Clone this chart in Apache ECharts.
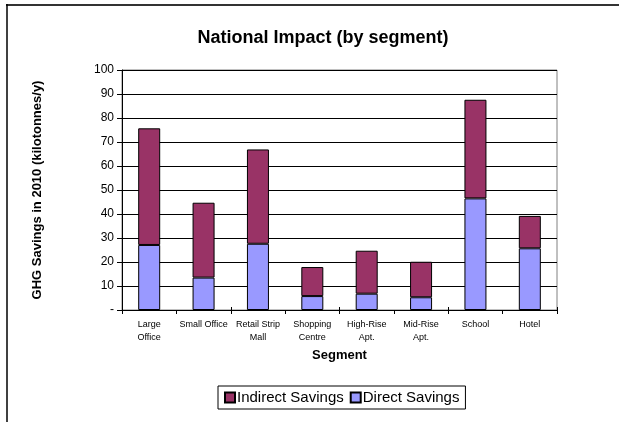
<!DOCTYPE html>
<html>
<head>
<meta charset="utf-8">
<script src="https://cdn.jsdelivr.net/npm/echarts@6/dist/echarts.min.js"></script>
<style>
  html, body { margin: 0; padding: 0; background: #fff; }
  #chart { width: 619px; height: 422px; }
</style>
</head>
<body>
<div id="chart"></div>
<script>
// Segments along the x axis
const segments = ['Large\nOffice', 'Small Office', 'Retail Strip\nMall', 'Shopping\nCentre',
  'High-Rise\nApt.', 'Mid-Rise\nApt.', 'School', 'Hotel'];

// GHG savings in 2010, kilotonnes per year
const directSavings   = [27.1, 13.5, 27.6, 5.8, 6.8, 5.3, 46.5, 25.7];
const indirectSavings = [48.6, 31.2, 39.3, 12.1, 17.9, 14.8, 41.1, 13.5];

// Value axis ticks
const yMin = 0, yMax = 100, yStep = 10;

const FONT = 'Liberation Sans, Arial, sans-serif';
const chart = echarts.init(document.getElementById('chart'), null, { renderer: 'canvas' });

chart.setOption({
  animation: false,
  backgroundColor: '#fff',
  textStyle: { fontFamily: FONT, color: '#000' },
  title: {
    text: 'National Impact (by segment)',
    left: 318, top: 24, textAlign: 'center',
    textStyle: { fontFamily: FONT, fontSize: 18, fontWeight: 'bold', color: '#000' }
  },
  legend: {
    data: ['Indirect Savings', 'Direct Savings'],
    left: 218, top: 386,
    width: 250,
    padding: [4, 6, 4, 6],
    borderColor: '#000', borderWidth: 1,
    itemWidth: 10, itemHeight: 10, itemGap: 6,
    icon: 'rect',
    textStyle: { fontFamily: FONT, fontSize: 15, color: '#000', padding: [0, 0, 0, -3] }
  },
  grid: {
    left: 122, right: 62, top: 70, bottom: 112,
    show: true, borderColor: '#808080', borderWidth: 1, backgroundColor: 'transparent'
  },
  xAxis: [{
    type: 'category',
    data: segments,
    name: 'Segment',
    nameLocation: 'middle',
    nameGap: 39,
    nameTextStyle: { fontFamily: FONT, fontSize: 13, fontWeight: 'bold', color: '#000' },
    axisLine: { lineStyle: { color: '#000', width: 1 } },
    axisTick: { show: true, length: 4, alignWithLabel: false, lineStyle: { color: '#000' } },
    axisLabel: { interval: 0, fontFamily: FONT, fontSize: 9, color: '#000', margin: 8, lineHeight: 13 }
  }, {
    // inner half of the crossing tick marks
    type: 'category',
    data: segments,
    position: 'bottom',
    axisLine: { show: false },
    axisTick: { show: true, inside: true, length: 3, lineStyle: { color: '#000' } },
    axisLabel: { show: false }
  }],
  yAxis: {
    type: 'value',
    min: yMin, max: yMax, interval: yStep,
    name: 'GHG Savings in 2010 (kilotonnes/y)',
    nameLocation: 'middle',
    nameGap: 78,
    nameTextStyle: { fontFamily: FONT, fontSize: 13, fontWeight: 'bold', color: '#000' },
    axisLine: { show: true, lineStyle: { color: '#000', width: 1 } },
    axisTick: { show: true, length: 5, lineStyle: { color: '#000' } },
    splitLine: { lineStyle: { color: '#000', width: 1 } },
    axisLabel: {
      fontFamily: FONT, fontSize: 12, color: '#000', margin: 8,
      formatter: v => (v === 0 ? '-' : String(v))
    }
  },
  series: [{
    name: 'Direct Savings',
    type: 'bar',
    stack: 'total',
    data: directSavings,
    barWidth: 22,
    itemStyle: { color: '#9999FF', borderColor: '#000', borderWidth: 1 }
  }, {
    name: 'Indirect Savings',
    type: 'bar',
    stack: 'total',
    data: indirectSavings,
    barWidth: 22,
    itemStyle: { color: '#993366', borderColor: '#000', borderWidth: 1 }
  }],
  graphic: [{
    type: 'line', silent: true,
    shape: { x1: 6, y1: 5, x2: 619, y2: 5 },
    style: { stroke: '#333', lineWidth: 2 }
  }, {
    type: 'line', silent: true,
    shape: { x1: 7, y1: 4, x2: 7, y2: 422 },
    style: { stroke: '#000', lineWidth: 1.5 }
  }]
});
</script>
</body>
</html>
